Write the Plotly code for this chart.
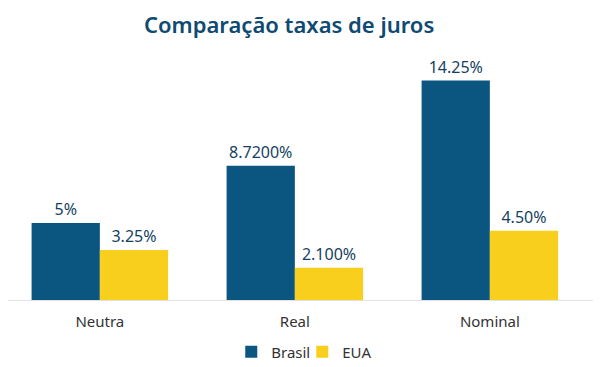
import plotly.graph_objects as go

categories = ["Neutra", "Real", "Nominal"]
brasil = [5.0, 8.72, 14.25]
eua = [3.25, 2.10, 4.50]
brasil_labels = ["5%", "8.7200%", "14.25%"]
eua_labels = ["3.25%", "2.100%", "4.50%"]

FONT = "Noto Sans"
LABEL_COLOR = "#163f62"
fig = go.Figure()
fig.add_trace(go.Bar(name="Brasil", x=categories, y=brasil, text=brasil_labels,
                     textposition="outside", marker_color="#0a5680",
                     marker_line_width=0,
                     textfont=dict(color=LABEL_COLOR, size=16, family=FONT),
                     cliponaxis=False))
fig.add_trace(go.Bar(name="EUA", x=categories, y=eua, text=eua_labels,
                     textposition="outside", marker_color="#f8cf1c",
                     marker_line_width=0,
                     textfont=dict(color=LABEL_COLOR, size=16, family=FONT),
                     cliponaxis=False))
fig.update_layout(
    width=602, height=367,
    barmode="group", bargap=0.30, bargroupgap=0,
    paper_bgcolor="white", plot_bgcolor="white",
    margin=dict(l=0, r=17, t=40, b=75),
    title=dict(text="Comparação taxas de juros", x=0.467, xanchor="center",
               y=0.953, yanchor="middle",
               font=dict(size=22, color="#0e4a72", family=FONT, weight=600)),
    font=dict(family=FONT, color="#333333"),
    legend=dict(orientation="h", x=0.503, xanchor="center", y=-0.206, yanchor="middle",
                font=dict(size=15, color="#333333"), traceorder="normal",
                itemwidth=30, entrywidth=26, entrywidthmode="pixels"),
    showlegend=True,
)
fig.update_xaxes(showline=True, linecolor="#e3e3e3", linewidth=1, ticks="",
                 range=[-0.471, 2.529], ticklabelstandoff=8,
                 tickfont=dict(size=15, color="#333333"), showgrid=False)
fig.update_yaxes(visible=False, range=[0, 16.36], showgrid=False, zeroline=False)
fig.write_html("out.html")
